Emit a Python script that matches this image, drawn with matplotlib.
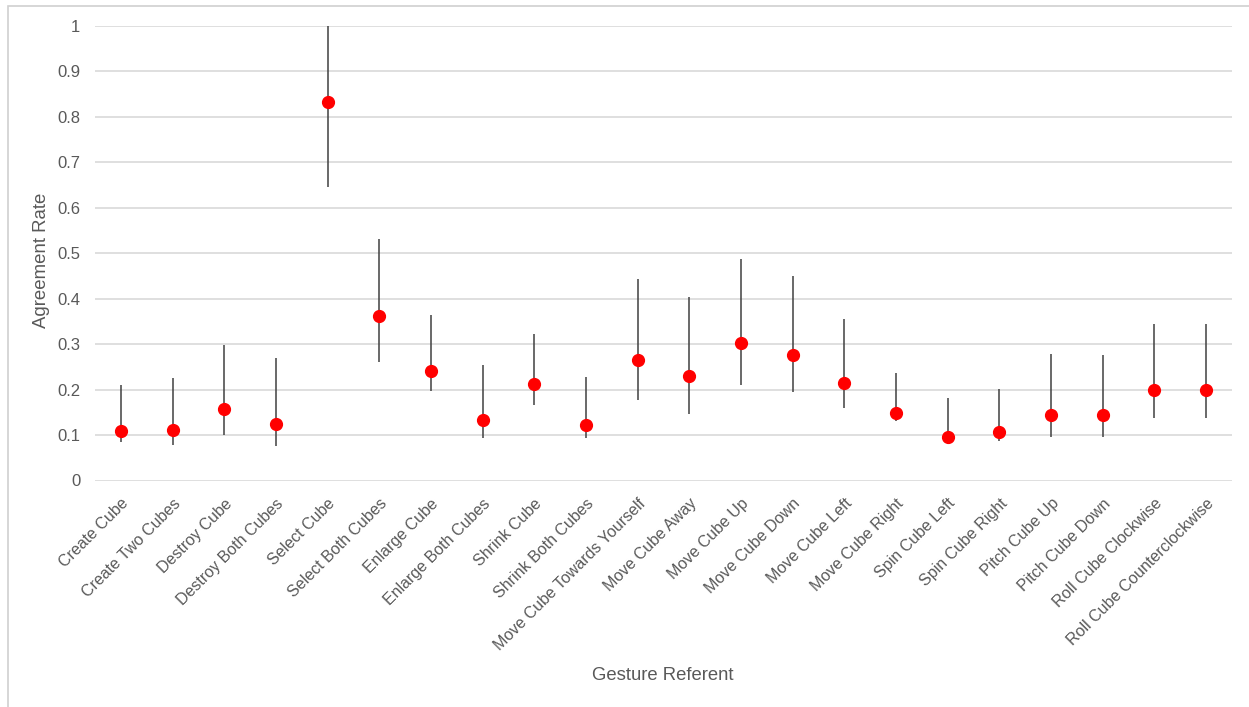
import matplotlib
matplotlib.use("Agg")
import matplotlib.pyplot as plt
from matplotlib.patches import Rectangle

categories = [
    "Create Cube", "Create Two Cubes", "Destroy Cube", "Destroy Both Cubes",
    "Select Cube", "Select Both Cubes", "Enlarge Cube", "Enlarge Both Cubes",
    "Shrink Cube", "Shrink Both Cubes", "Move Cube Towards Yourself",
    "Move Cube Away", "Move Cube Up", "Move Cube Down", "Move Cube Left",
    "Move Cube Right", "Spin Cube Left", "Spin Cube Right", "Pitch Cube Up",
    "Pitch Cube Down", "Roll Cube Clockwise", "Roll Cube Counterclockwise",
]
agreement = [0.108, 0.110, 0.157, 0.125, 0.832, 0.362, 0.241, 0.133, 0.212, 0.123,
             0.266, 0.230, 0.303, 0.276, 0.214, 0.149, 0.095, 0.107, 0.144, 0.144,
             0.199, 0.199]
upper = [0.209, 0.225, 0.299, 0.269, 1.000, 0.530, 0.364, 0.253, 0.322, 0.228,
         0.442, 0.403, 0.486, 0.449, 0.356, 0.236, 0.181, 0.201, 0.279, 0.276,
         0.345, 0.345]
lower = [0.084, 0.077, 0.100, 0.075, 0.646, 0.261, 0.196, 0.093, 0.166, 0.093,
         0.177, 0.146, 0.211, 0.194, 0.159, 0.131, 0.081, 0.087, 0.096, 0.096,
         0.138, 0.138]
yticks = [0, 0.1, 0.2, 0.3, 0.4, 0.5, 0.6, 0.7, 0.8, 0.9, 1]
ytick_labels = ["0", "0.1", "0.2", "0.3", "0.4", "0.5", "0.6", "0.7", "0.8", "0.9", "1"]

plt.rcParams['font.family'] = ['Liberation Sans', 'DejaVu Sans']
text_color = '#595959'

W, H = 1249, 707
fig = plt.figure(figsize=(W / 100, H / 100), dpi=100)
fig.patches.append(Rectangle((7.5 / W, -0.1), 1.2, 1 - 5.5 / H + 0.1,
                             transform=fig.transFigure, fill=False,
                             edgecolor='#d0d0d0', linewidth=1.2))

ax = fig.add_axes([95 / W, 1 - 480.5 / H, (1232 - 95) / W, (480.5 - 25.7) / H])

x = list(range(1, len(categories) + 1))
yerr_low = [a - l for a, l in zip(agreement, lower)]
yerr_high = [u - a for a, u in zip(agreement, upper)]

ax.errorbar(x, agreement, yerr=[yerr_low, yerr_high], fmt='none',
            ecolor='#404040', elinewidth=1.1, capsize=0, zorder=2)
ax.plot(x, agreement, 'o', color='#ff0000', markersize=8.5, zorder=3)

ax.set_xlim(0.5, len(categories) + 0.5)
ax.set_ylim(0, 1)
ax.set_yticks(yticks)
ax.set_yticklabels(ytick_labels)
ax.set_xticks(x)
ax.set_xticklabels(categories, rotation=45, ha='right', va='top',
                   rotation_mode='anchor')
ax.tick_params(axis='both', length=0, colors=text_color)
ax.tick_params(axis='y', pad=10.5, labelsize=12)
ax.tick_params(axis='x', pad=11, labelsize=11.5)
ax.grid(axis='y', color='#d9d9d9', linewidth=1.2)
ax.set_axisbelow(True)
for s in ax.spines.values():
    s.set_visible(False)

fig.text(42 / W, 1 - 260 / H, "Agreement Rate", rotation=90, ha='center',
         va='center', color=text_color, fontsize=13.4)
fig.text(663 / W, 1 - 676 / H, "Gesture Referent", ha='center', va='center',
         color=text_color, fontsize=13.3)

fig.savefig("out.png", dpi=100, facecolor='white')
